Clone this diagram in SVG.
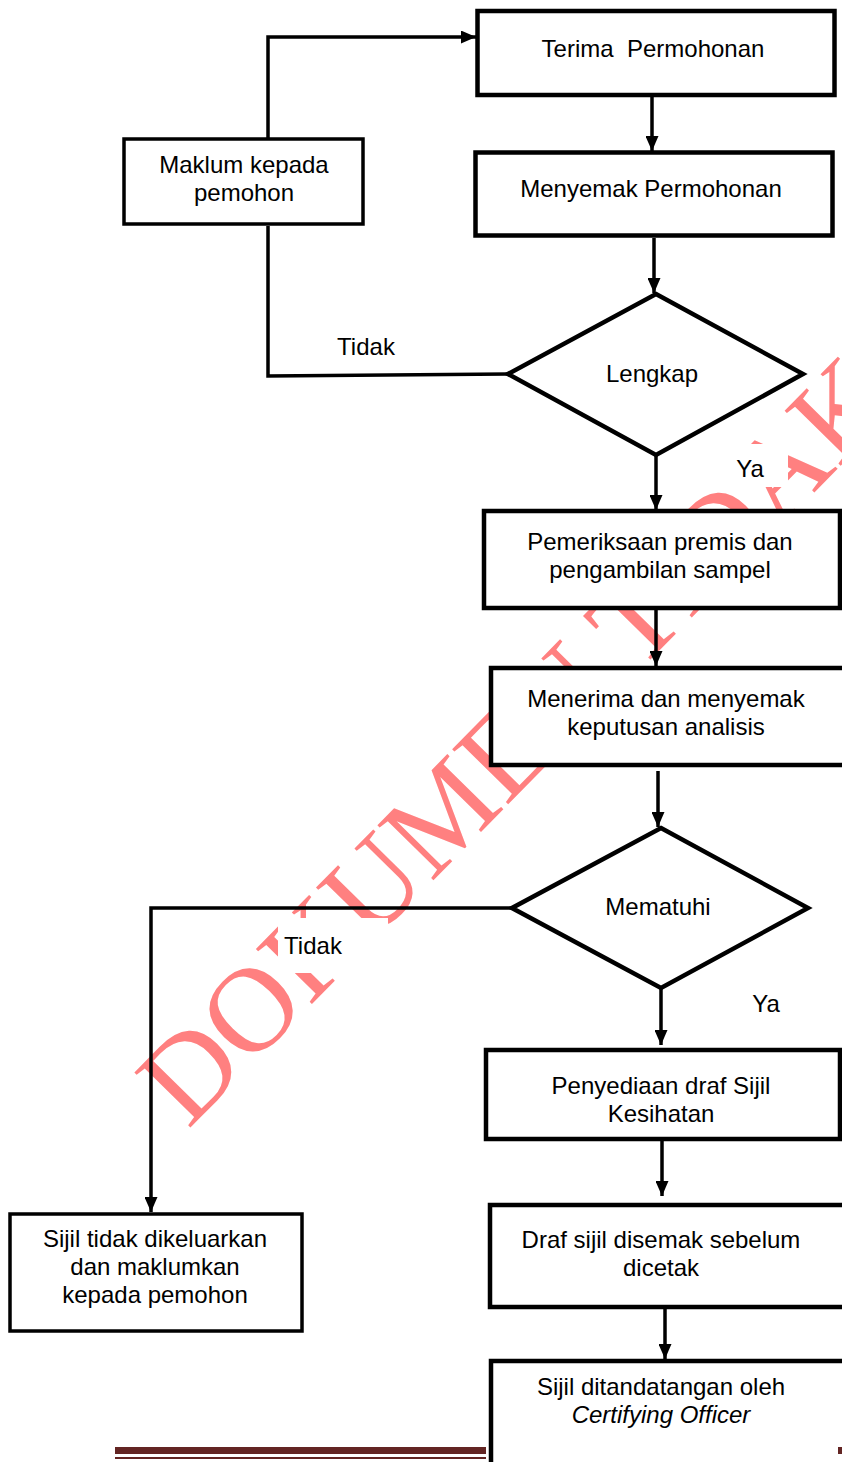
<svg xmlns="http://www.w3.org/2000/svg" width="842" height="1462" viewBox="0 0 842 1462">
<style>
.box{fill:#fff;stroke:#000;stroke-width:4.5}
.thin{fill:#fff;stroke:#000;stroke-width:3.5}
.dia{fill:#fff;stroke:#000;stroke-width:4.5;stroke-linejoin:miter}
.ln{fill:none;stroke:#000;stroke-width:3.5}
.t{font-family:"Liberation Sans",Arial,sans-serif;font-size:24px;fill:#000;text-anchor:middle}
.wm{font-family:"Liberation Serif","Times New Roman",serif;font-size:120px;fill:#FF8080}
.lbg{fill:#fff}
</style>
<defs>
<marker id="ah" markerUnits="userSpaceOnUse" markerWidth="15" markerHeight="13" refX="15" refY="6.5" orient="auto">
<path d="M0,0 L15,6.5 L0,13 z" fill="#000"/>
</marker>
</defs>
<rect width="842" height="1462" fill="#fff"/>
<g id="watermark">
<text class="wm" transform="translate(188,1130) rotate(-45.5)">DOKUMEN TIDAK</text>
</g>
<g id="connectors">
<path class="ln" d="M268,139 V37 H476" marker-end="url(#ah)"/>
<path class="ln" d="M652,97 V151" marker-end="url(#ah)"/>
<path class="ln" d="M654,238 V293" marker-end="url(#ah)"/>
<path class="ln" d="M508,374 L268,376 V226"/>
<path class="ln" d="M656,455 V510" marker-end="url(#ah)"/>
<path class="ln" d="M656,608 V666" marker-end="url(#ah)"/>
<path class="ln" d="M658,771 V827" marker-end="url(#ah)"/>
<path class="ln" d="M512,908 H151 V1212" marker-end="url(#ah)"/>
<path class="ln" d="M661,989 V1045" marker-end="url(#ah)"/>
<path class="ln" d="M662,1140 V1196" marker-end="url(#ah)"/>
<path class="ln" d="M665,1305 V1359" marker-end="url(#ah)"/>
<rect class="lbg" x="278" y="918" width="110" height="55"/>
<text class="t" x="313" y="954">Tidak</text>
<rect class="lbg" x="722" y="444" width="66" height="43"/>
<text class="t" x="750" y="477">Ya</text>
<text class="t" x="366" y="355">Tidak</text>
<text class="t" x="766" y="1012">Ya</text>
</g>
<g id="n-terima">
<rect class="box" x="477.5" y="11" width="357" height="84"/>
<text class="t" x="653" y="57" xml:space="preserve">Terima  Permohonan</text>
</g>
<g id="n-menyemak">
<rect class="box" x="475.5" y="152.5" width="357" height="83"/>
<text class="t" x="651" y="197">Menyemak Permohonan</text>
</g>
<g id="n-maklum">
<rect class="thin" x="124" y="139" width="239" height="85"/>
<text class="t" x="244" y="173">Maklum kepada</text>
<text class="t" x="244" y="201">pemohon</text>
</g>
<g id="n-lengkap">
<polygon class="dia" points="656,294 803,374 656,455 508,374"/>
<text class="t" x="652" y="382">Lengkap</text>
</g>
<g id="n-pemeriksaan">
<rect class="box" x="484" y="511" width="356" height="97"/>
<text class="t" x="660" y="550">Pemeriksaan premis dan</text>
<text class="t" x="660" y="578">pengambilan sampel</text>
</g>
<g id="n-menerima">
<rect class="box" x="491" y="668" width="360" height="97"/>
<text class="t" x="666" y="707">Menerima dan menyemak</text>
<text class="t" x="666" y="735">keputusan analisis</text>
</g>
<g id="n-mematuhi">
<polygon class="dia" points="661,828 808,908 661,988 512,908"/>
<text class="t" x="658" y="915">Mematuhi</text>
</g>
<g id="n-tidak-dikeluarkan">
<rect class="thin" x="10" y="1214" width="292" height="117"/>
<text class="t" x="155" y="1247">Sijil tidak dikeluarkan</text>
<text class="t" x="155" y="1275">dan maklumkan</text>
<text class="t" x="155" y="1303">kepada pemohon</text>
</g>
<g id="n-penyediaan">
<rect class="box" x="486" y="1050" width="354" height="89"/>
<text class="t" x="661" y="1094">Penyediaan draf Sijil</text>
<text class="t" x="661" y="1122">Kesihatan</text>
</g>
<g id="n-draf">
<rect class="box" x="490" y="1205" width="360" height="102"/>
<text class="t" x="661" y="1248">Draf sijil disemak sebelum</text>
<text class="t" x="661" y="1276">dicetak</text>
</g>
<g id="n-tandatangan">
<rect class="box" x="491" y="1361" width="360" height="120"/>
<text class="t" x="661" y="1395">Sijil ditandatangan oleh</text>
<text class="t" x="661" y="1423" font-style="italic">Certifying Officer</text>
</g>
<g id="footer">
<rect x="115" y="1447" width="371" height="7" fill="#632523"/>
<rect x="115" y="1457" width="371" height="2" fill="#632523"/>
<rect x="838" y="1447" width="4" height="7" fill="#632523"/>
</g>
</svg>
